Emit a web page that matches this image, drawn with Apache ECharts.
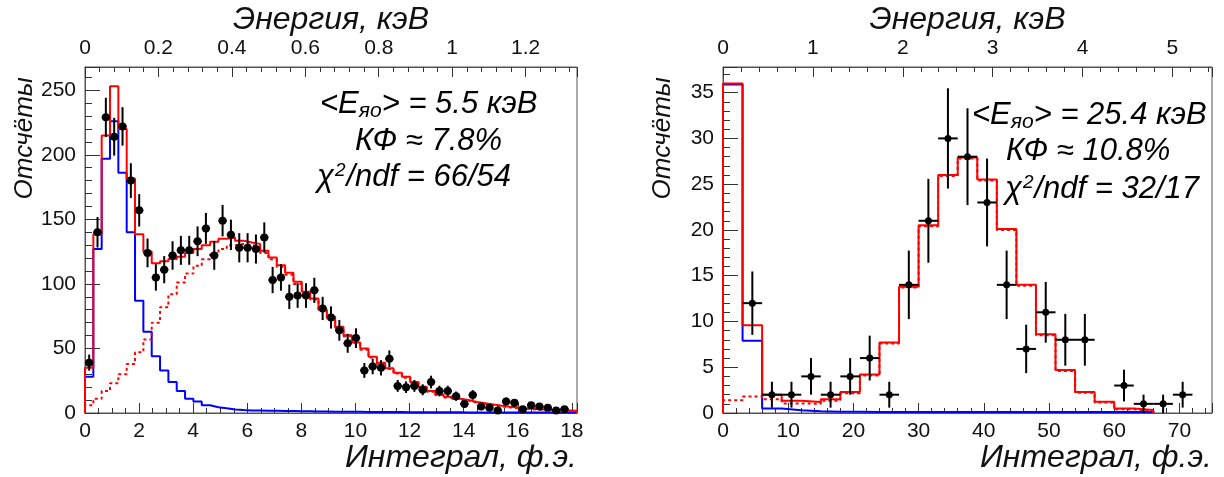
<!DOCTYPE html>
<html><head><meta charset="utf-8">
<script src="https://cdn.jsdelivr.net/npm/echarts@6/dist/echarts.min.js"></script>
<style>html,body{margin:0;padding:0;background:#fff}#c{width:1224px;height:477px}</style>
</head><body><div id="c"></div>
<script>
// ---------------- Left panel: integral in photoelectrons ----------------
const leftBinWidth = 0.3083;
const leftXMax = 18.19;
const leftYMax = 268;
const leftEnergyMax = 1.34;   // keV at the right edge (top axis)
const leftCounts = [39,140,229,214,222,180,157,124,105,111,122,126,126,133,143,122,149,138,128,128,127,
  136,103,105,90,91,91,95,81,74,64,54,58,33,36,35,42,21,20,21,18,24,
  17,17,13,7,14,5,4,2,9,8,3,6,5,4,2,3,null];
const leftFitTotal = [35,138.5,215,253,220,181.6,138.5,125,116,117.6,119.3,121,124,127,130,132.6,135,136,133.5,132,131,
  125.6,120.5,114.5,108.6,101.6,94,88.7,80,74.5,66.8,60.3,54.7,50,43.6,39,34.6,31.2,28,24,20.4,17,
  14.5,12.6,11,10,8.5,7.5,6.5,5.6,4.8,4.2,3.6,3.2,2.8,2.5,2.2,2,1.8];
const leftFitFast = [28,127,197,226,186,140,87,63,44,33,24,17,11,9,6,4.5,3.6,2.8,2.3,2.0,1.9,
  1.8,1.7,1.6,1.5,1.4,1.3,1.2,1.1,1.0,1.0,0.9,0.9,0.8,0.8,0.7,0.7,0.7,0.6,0.6,0.6,0.5,
  0.5,0.5,0.5,0.4,0.4,0.4,0.4,0.4,0.3,0.3,0.3,0.3,0.3,0.3,0.3,0.3,0.3];
const leftFitSlow = [6,11,17,23,30,38,47,57,70,82,92,101,108,114,119,123,127,130,131,130,129,
  124,119,113,107,100,93,88,79,73.5,66,59.5,54,49,43,38,34,30.6,27.4,23.4,19.8,16.5,
  14,12,10.5,9.5,8,7,6,5.1,4.3,3.7,3.2,2.8,2.4,2.1,1.8,1.6,1.4];
const leftText = ['{m|<E}{s|яо}{m|> = 5.5 кэВ}', '{m|КФ ≈ 7.8%}', '{m|χ}{p|2}{m|/ndf = 66/54}'];

// ---------------- Right panel ----------------
const rightBinWidth = 3;
const rightXMax = 75;
const rightYMax = 37.8;
const rightEnergyMax = 5.44;
const rightCounts = [null,12,2,2,4,2,4,6,2,14,21,30,28,23,14,7,11,8,8,null,3,1,1,2,null];
const rightFitTotal = [36,9.6,2.0,1.35,1.2,1.5,2.3,4.2,7.7,13.8,20.5,26.0,27.9,25.5,20.1,14.0,8.6,4.7,2.3,1.24,0.5,0.33];
const rightFitFast = [35.9,7.9,0.5,0.3,0.2,0.15,0.15,0.12,0.12,0.1,0.1,0.1,0.1,0.1,0.1,0.1,0.1,0.1,0.1,0.1,0.1,0.1];
const rightFitSlow = [1.4,1.8,1.5,1.05,1.0,1.35,2.15,4.1,7.6,13.7,20.4,25.9,27.8,25.4,20.0,13.9,8.5,4.6,2.2,1.14,0.4,0.23];
const rightText = ['{m|<E}{s|яо}{m|> = 25.4 кэВ}', '{m|КФ ≈ 10.8%}', '{m|χ}{p|2}{m|/ndf = 32/17}'];

const xTitle = 'Интеграл, ф.э.';
const topTitle = 'Энергия, кэВ';
const yTitle = 'Отсчёты';

// ---------------- helpers ----------------
const FONT = 'Liberation Sans, Arial, sans-serif';
const AXIS_COLOR = '#555';
function stepPoints(values, w) {
  const pts = [[0, 0]];
  values.forEach((v, i) => pts.push([i * w, v]));
  const n = values.length;
  pts.push([n * w, values[n - 1]]);
  pts.push([n * w, 0]);
  return pts;
}
function pointData(counts, w) {
  const out = [];
  counts.forEach((c, i) => { if (c != null) out.push([(i + 0.5) * w, c, Math.sqrt(c), w / 2]); });
  return out;
}
function axisBase(gridIndex) {
  return {
    gridIndex, type: 'value', nameMoveOverlap: false,
    axisLine: { show: true, lineStyle: { color: AXIS_COLOR, width: 1 } },
    splitLine: { show: false },
    axisLabel: { color: '#111', fontFamily: FONT, fontSize: 21, showMaxLabel: false },
    nameTextStyle: { color: '#111', fontFamily: FONT, fontSize: 32, fontStyle: 'italic' }
  };
}
function bottomX(gridIndex, max, interval, minorSplit) {
  const a = axisBase(gridIndex);
  return Object.assign(a, {
    position: 'bottom', min: 0, max, interval,
    axisTick: { show: true, inside: true, length: 10, lineStyle: { color: '#333' } },
    minorTick: { show: true, splitNumber: minorSplit, length: 5, lineStyle: { color: '#333' } },
    axisLabel: Object.assign(a.axisLabel, { margin: 8 }),
    name: xTitle, nameLocation: 'end', nameGap: 0,
    nameTextStyle: Object.assign(a.nameTextStyle, { align: 'right', verticalAlign: 'top', padding: [29, 0, 0, 0] })
  });
}
function topX(gridIndex, max, interval) {
  const a = axisBase(gridIndex);
  return Object.assign(a, {
    position: 'top', min: 0, max, interval,
    axisTick: { show: true, inside: true, length: 10, lineStyle: { color: '#333' } },
    minorTick: { show: true, splitNumber: 5, length: 5, lineStyle: { color: '#333' } },
    axisLabel: Object.assign(a.axisLabel, { margin: 8 }),
    name: topTitle, nameLocation: 'middle', nameGap: 31
  });
}
function leftY(gridIndex, max, interval) {
  const a = axisBase(gridIndex);
  return Object.assign(a, {
    position: 'left', min: 0, max, interval,
    axisTick: { show: true, inside: true, length: 15, lineStyle: { color: '#333' } },
    minorTick: { show: true, splitNumber: 5, length: 7, lineStyle: { color: '#333' } },
    axisLabel: Object.assign(a.axisLabel, { margin: 9 }),
    name: yTitle, nameLocation: 'end', nameGap: 0, nameRotate: 90,
    nameTextStyle: Object.assign(a.nameTextStyle, { fontSize: 26, align: 'right', verticalAlign: 'bottom', padding: [0, 10, 47, 0] })
  });
}
function histSeries(values, w, xi, yi, color, dotted, z) {
  return {
    type: 'line', xAxisIndex: xi, yAxisIndex: yi, step: 'end', symbol: 'none', z,
    data: stepPoints(values, w), animation: false, silent: true,
    lineStyle: { color, width: 2, type: dotted ? [3, 3] : 'solid' }
  };
}
function pointsSeries(counts, w, xi, yi, radius) {
  return {
    type: 'custom', xAxisIndex: xi, yAxisIndex: yi, z: 10, animation: false, silent: true,
    data: pointData(counts, w),
    encode: { x: 0, y: 1 },
    renderItem: function (params, api) {
      const x = api.value(0), y = api.value(1), e = api.value(2), hw = api.value(3);
      const c = api.coord([x, y]);
      const t = api.coord([x, y + e]);
      const b = api.coord([x, Math.max(0, y - e)]);
      const l = api.coord([x - hw, y]);
      const r = api.coord([x + hw, y]);
      const st = { stroke: '#000', lineWidth: 2 };
      return { type: 'group', children: [
        { type: 'line', shape: { x1: c[0], y1: t[1], x2: c[0], y2: b[1] }, style: st },
        { type: 'line', shape: { x1: l[0], y1: c[1], x2: r[0], y2: c[1] }, style: st },
        { type: 'circle', shape: { cx: c[0], cy: c[1], r: radius }, style: { fill: '#000' } }
      ] };
    }
  };
}
const rich = {
  m: { fontFamily: FONT, fontSize: 31, fontStyle: 'italic', color: '#000', lineHeight: 35, verticalAlign: 'top' },
  s: { fontFamily: FONT, fontSize: 21, fontStyle: 'italic', color: '#000', lineHeight: 21, verticalAlign: 'top', padding: [12, 0, 0, 0] },
  p: { fontFamily: FONT, fontSize: 19, fontStyle: 'italic', color: '#000', lineHeight: 19, verticalAlign: 'top', padding: [0, 1, 0, 1] }
};
function textEl(text, x, y) {
  return { type: 'text', x, y, z: 20, silent: true,
    style: { text, rich, align: 'left', verticalAlign: 'middle', fill: '#000' } };
}

const chart = echarts.init(document.getElementById('c'), null, { renderer: 'canvas' });
chart.setOption({
  animation: false,
  backgroundColor: '#fff',
  grid: [
    { left: 85, top: 67, width: 492, height: 346, containLabel: false, outerBoundsMode: 'none', show: true, borderColor: AXIS_COLOR, borderWidth: 1, backgroundColor: 'transparent' },
    { left: 723, top: 67, width: 489, height: 346, containLabel: false, outerBoundsMode: 'none', show: true, borderColor: AXIS_COLOR, borderWidth: 1, backgroundColor: 'transparent' }
  ],
  xAxis: [
    bottomX(0, leftXMax, 2, 4),
    topX(0, leftEnergyMax, 0.2),
    bottomX(1, rightXMax, 10, 5),
    topX(1, rightEnergyMax, 1)
  ],
  yAxis: [
    leftY(0, leftYMax, 50),
    leftY(1, rightYMax, 5)
  ],
  series: [
    histSeries(leftFitFast, leftBinWidth, 0, 0, '#0000ff', false, 3),
    histSeries(leftFitSlow, leftBinWidth, 0, 0, '#ff0000', true, 4),
    histSeries(leftFitTotal, leftBinWidth, 0, 0, '#ff0000', false, 5),
    pointsSeries(leftCounts, leftBinWidth, 0, 0, 4),
    histSeries(rightFitFast, rightBinWidth, 2, 1, '#0000ff', false, 3),
    histSeries(rightFitSlow, rightBinWidth, 2, 1, '#ff0000', true, 4),
    histSeries(rightFitTotal, rightBinWidth, 2, 1, '#ff0000', false, 5),
    pointsSeries(rightCounts, rightBinWidth, 2, 1, 3.5)
  ],
  graphic: [
    textEl(leftText[0], 320, 106),
    textEl(leftText[1], 355, 143),
    textEl(leftText[2], 317, 179),
    textEl(rightText[0], 972, 117),
    textEl(rightText[1], 1006, 153),
    textEl(rightText[2], 1005, 191)
  ]
});
</script></body></html>
